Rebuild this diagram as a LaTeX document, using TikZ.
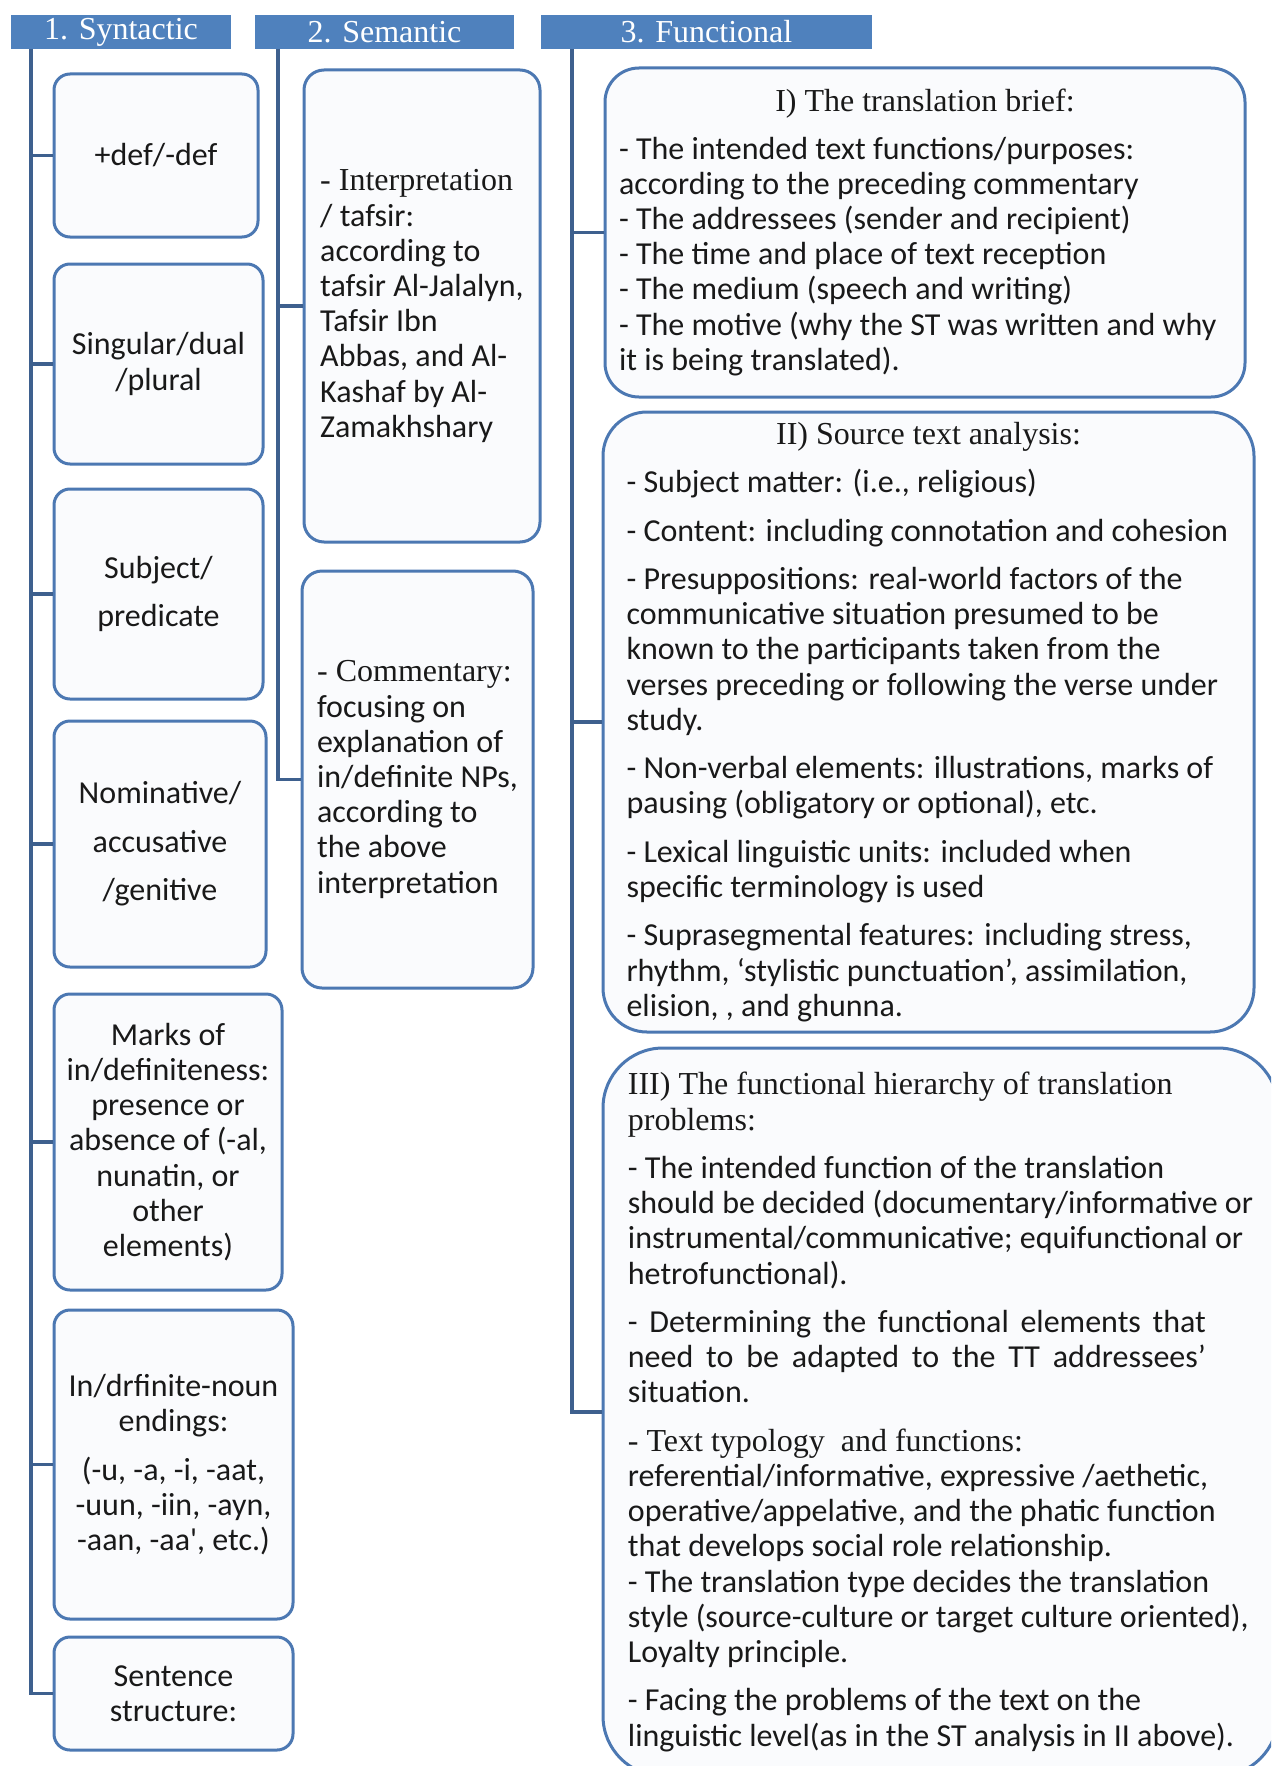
\documentclass[tikz,border=0pt]{standalone}
\usepackage{fontspec}
\setmainfont{Carlito}
\newfontfamily\sr{Liberation Serif}
\definecolor{hdrblue}{RGB}{79,129,189}
\definecolor{edgeblue}{RGB}{76,120,178}
\definecolor{trunkblue}{RGB}{62,96,142}
\definecolor{boxfill}{RGB}{250,251,253}
\definecolor{ink}{RGB}{25,25,25}
\begin{document}
\begin{tikzpicture}[x=0.5pt,y=-0.5pt,
	font=\fontsize{16}{17.6}\selectfont, text=ink,
	hdr/.style={fill=hdrblue, text=white, font=\sr\fontsize{16}{17.6}\selectfont, inner sep=0pt},
	box/.style={draw=edgeblue, line width=1.5pt, fill=boxfill, rounded corners=#1, inner sep=2pt},
	box/.default=8pt,
	wh/.style 2 args={minimum width=#1*0.5pt, minimum height=#2*0.5pt},
	trunk/.style={draw=trunkblue, line width=1.8pt}]
	\useasboundingbox (0,0) rectangle (1271,1766);
	\clip (0,0) rectangle (1271,1766);
	% tieu de cot
	\node[hdr, wh={220}{34}] (h1) at (121,32) {1. Syntactic};
	\node[hdr, wh={259}{34}] (h2) at (384.5,32) {2. Semantic};
	\node[hdr, wh={331}{34}] (h3) at (706.5,32) {3. Functional};
	\coordinate (t1) at (31,49); % goc truc 1
	\coordinate (t2) at (278,49); % goc truc 2
	\coordinate (t3) at (572,49); % goc truc 3
	% cot 1
	\node[box, wh={204}{163}] (b1) at (156,155.5) {+def/-def};
	\node[box, wh={209}{200}, align=center] (b2) at (158.5,364) {Singular/dual\\/plural};
	\node[box, wh={209}{210}, align=center] (b3) at (158.5,594) {Subject/\\[6.6pt]predicate};
	\node[box, wh={212}{246}, align=center] (b4) at (160,844) {Nominative/\\[6.6pt]accusative\\[6.6pt]/genitive};
	\node[box, wh={228}{296}, align=center] (b5) at (168,1142) {Marks of\\in/definiteness:\\presence or\\absence of (-al,\\nunatin, or\\other\\elements)};
	\node[box, wh={239}{309}, align=center] (b6) at (173.5,1464.5) {In/drfinite-noun\\endings:\\[6.6pt](-u, -a, -i, -aat,\\-uun, -iin, -ayn,\\-aan, -aa\textquotesingle, etc.)};
	\node[box, wh={239}{113}, align=center] (b7) at (173.5,1693.5) {Sentence\\structure:};
	% cot 2
	\node[box=10pt, wh={236}{472}, align=left] (s1) at (422,306) {{\sr - Interpretation}\\/ tafsir:\\according to\\tafsir Al-Jalalyn,\\Tafsir Ibn\\Abbas, and Al-\\Kashaf by Al-\\Zamakhshary};
	\node[box=10pt, wh={231}{417}, align=left] (s2) at (417.5,779.5) {{\sr - Commentary:}\\focusing on\\explanation of\\in/definite NPs,\\according to\\the above\\interpretation};
	% cot 3
	\node[box=17pt, wh={640}{329}, align=left] (f1) at (925,232.5) {\makebox[306pt]{\sr I) The translation brief:}\\[6pt]- The intended text functions/purposes:\\according to the preceding commentary\\- The addressees (sender and recipient)\\- The time and place of text reception\\- The medium (speech and writing)\\- The motive (why the ST was written and why\\it is being translated).};
	\node[box=22pt, wh={651}{620}, align=left] (f2) at (928.5,722) {\makebox[302pt]{\sr II) Source text analysis:}\\[6.6pt]- Subject matter: (i.e., religious)\\[6.6pt]- Content: including connotation and cohesion\\[6.6pt]- Presuppositions: real-world factors of the\\communicative situation presumed to be\\known to the participants taken from the\\verses preceding or following the verse under\\study.\\[6.6pt]- Non-verbal elements: illustrations, marks of\\pausing (obligatory or optional), etc.\\[6.6pt]- Lexical linguistic units: included when\\specific terminology is used\\[6.6pt]- Suprasegmental features: including stress,\\rhythm, `stylistic punctuation', assimilation,\\elision, , and ghunna.};
	\node[box=30pt, wh={675}{728}, align=left] (f3) at (940.5,1412) {{\sr III) The functional hierarchy of translation}\\{\sr problems:}\\[6.6pt]- The intended function of the translation\\should be decided (documentary/informative or\\instrumental/communicative; equifunctional or\\hetrofunctional).\\[6.6pt]\makebox[289pt][s]{- Determining the functional elements that}\\\makebox[289pt][s]{need to be adapted to the TT addressees'}\\situation.\\[6.6pt]{\sr - Text typology\ \ and functions:}\\referential/informative, expressive /aethetic,\\operative/appelative, and the phatic function\\that develops social role relationship.\\- The translation type decides the translation\\style (source-culture or target culture oriented),\\Loyalty principle.\\[6.6pt]- Facing the problems of the text on the\\linguistic level(as in the ST analysis in II above).};
	% cac truc noi
	\draw[trunk] (t1) |- (b7.west);
	\foreach \n in {b1,b2,b3,b4,b5,b6} \draw[trunk] (t1 |- \n.west) -- (\n.west);
	\draw[trunk] (t2) |- (s2.west);
	\draw[trunk] (t2 |- s1.west) -- (s1.west);
	\draw[trunk] (t3) |- (f3.west);
	\foreach \n in {f1,f2} \draw[trunk] (t3 |- \n.west) -- (\n.west);
\end{tikzpicture}
\end{document}
